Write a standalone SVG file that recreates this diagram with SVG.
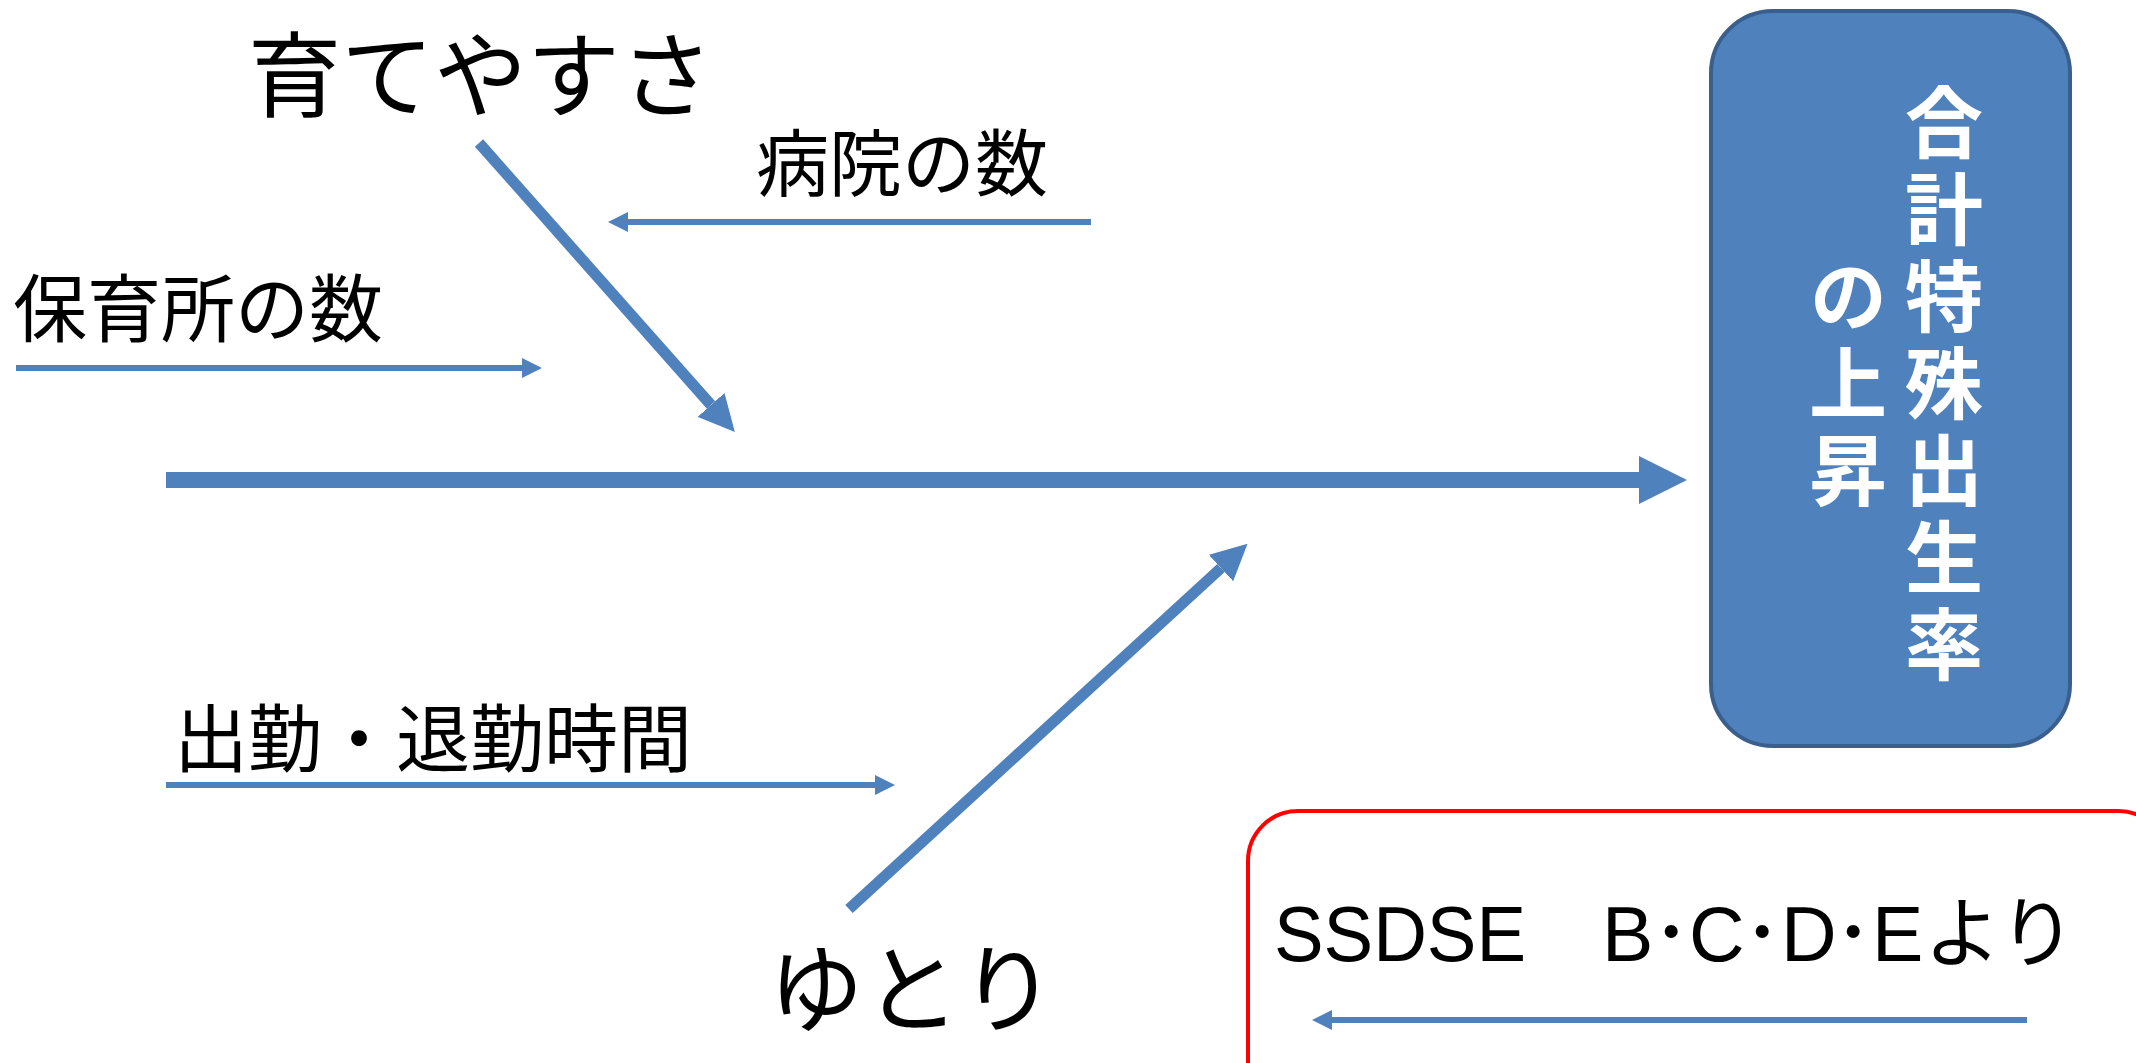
<svg xmlns="http://www.w3.org/2000/svg" width="2136" height="1063" viewBox="0 0 2136 1063">
<style>
.lbl{font-family:"Noto Sans CJK JP","Liberation Sans",sans-serif;fill:#000}
.conn{stroke:#4F81BD;fill:none;stroke-linecap:butt}
.big{font-family:"Noto Sans CJK JP",sans-serif;font-weight:bold;fill:#fff;font-size:78px;writing-mode:vertical-rl;letter-spacing:9px}
</style>
<defs>
<marker id="headL" markerUnits="userSpaceOnUse" markerWidth="48" markerHeight="48" viewBox="0 -24 48 48" refX="0" refY="0" orient="auto"><path d="M0,-24 L48,0 L0,24 z" fill="#4F81BD"/></marker>
<marker id="headM" markerUnits="userSpaceOnUse" markerWidth="36" markerHeight="36" viewBox="0 -18 36 36" refX="0" refY="0" orient="auto"><path d="M0,-18 L36,0 L0,18 z" fill="#4F81BD"/></marker>
<marker id="headS" markerUnits="userSpaceOnUse" markerWidth="20" markerHeight="20" viewBox="0 -10 20 20" refX="0" refY="0" orient="auto"><path d="M0,-10 L20,0 L0,10 z" fill="#4F81BD"/></marker>
</defs>
<rect width="2136" height="1063" fill="#fff"/>
<g id="result">
<rect x="1711" y="11" width="359" height="735" rx="62" ry="62" fill="#4F81BD" stroke="#3A5F8C" stroke-width="4"/>
<text class="big" x="1944" y="83">合計特殊出生率</text>
<text class="big" x="1848" y="257">の上昇</text>
</g>
<g id="source">
<rect x="1248" y="811" width="920" height="300" rx="50" ry="50" fill="#fff" stroke="#FF0000" stroke-width="4"/>
<text class="lbl" y="961" font-size="77" style="font-family:'Liberation Sans','Noto Sans CJK JP',sans-serif"><tspan x="1274" textLength="252" lengthAdjust="spacingAndGlyphs">SSDSE</tspan>　<tspan x="1602 1652 1689 1743 1781 1834 1872 1924 1999">B･C･D･Eより</tspan></text>
</g>
<g id="n-sodate"><text class="lbl" x="248" y="110" font-size="93">育てやすさ</text></g>
<g id="n-byoin"><text class="lbl" x="756" y="190" font-size="73">病院の数</text></g>
<g id="n-hoiku"><text class="lbl" x="13" y="336" font-size="74">保育所の数</text></g>
<g id="n-kinmu"><text class="lbl" x="174" y="766" font-size="74">出勤・退勤時間</text></g>
<g id="n-yutori"><text class="lbl" x="768" y="1024" font-size="96">ゆとり</text></g>
<g id="connectors">
<line class="conn" x1="166" y1="480" x2="1639" y2="480" stroke-width="16" marker-end="url(#headL)"/>
<line class="conn" x1="479" y1="143" x2="711" y2="405" stroke-width="11" marker-end="url(#headM)"/>
<line class="conn" x1="849" y1="909" x2="1221" y2="568" stroke-width="11" marker-end="url(#headM)"/>
<line class="conn" x1="1091" y1="222" x2="628" y2="222" stroke-width="6" marker-end="url(#headS)"/>
<line class="conn" x1="16" y1="368" x2="522" y2="368" stroke-width="6" marker-end="url(#headS)"/>
<line class="conn" x1="166" y1="785" x2="875" y2="785" stroke-width="6" marker-end="url(#headS)"/>
<line class="conn" x1="2027" y1="1020" x2="1332" y2="1020" stroke-width="6" marker-end="url(#headS)"/>
</g>
</svg>
